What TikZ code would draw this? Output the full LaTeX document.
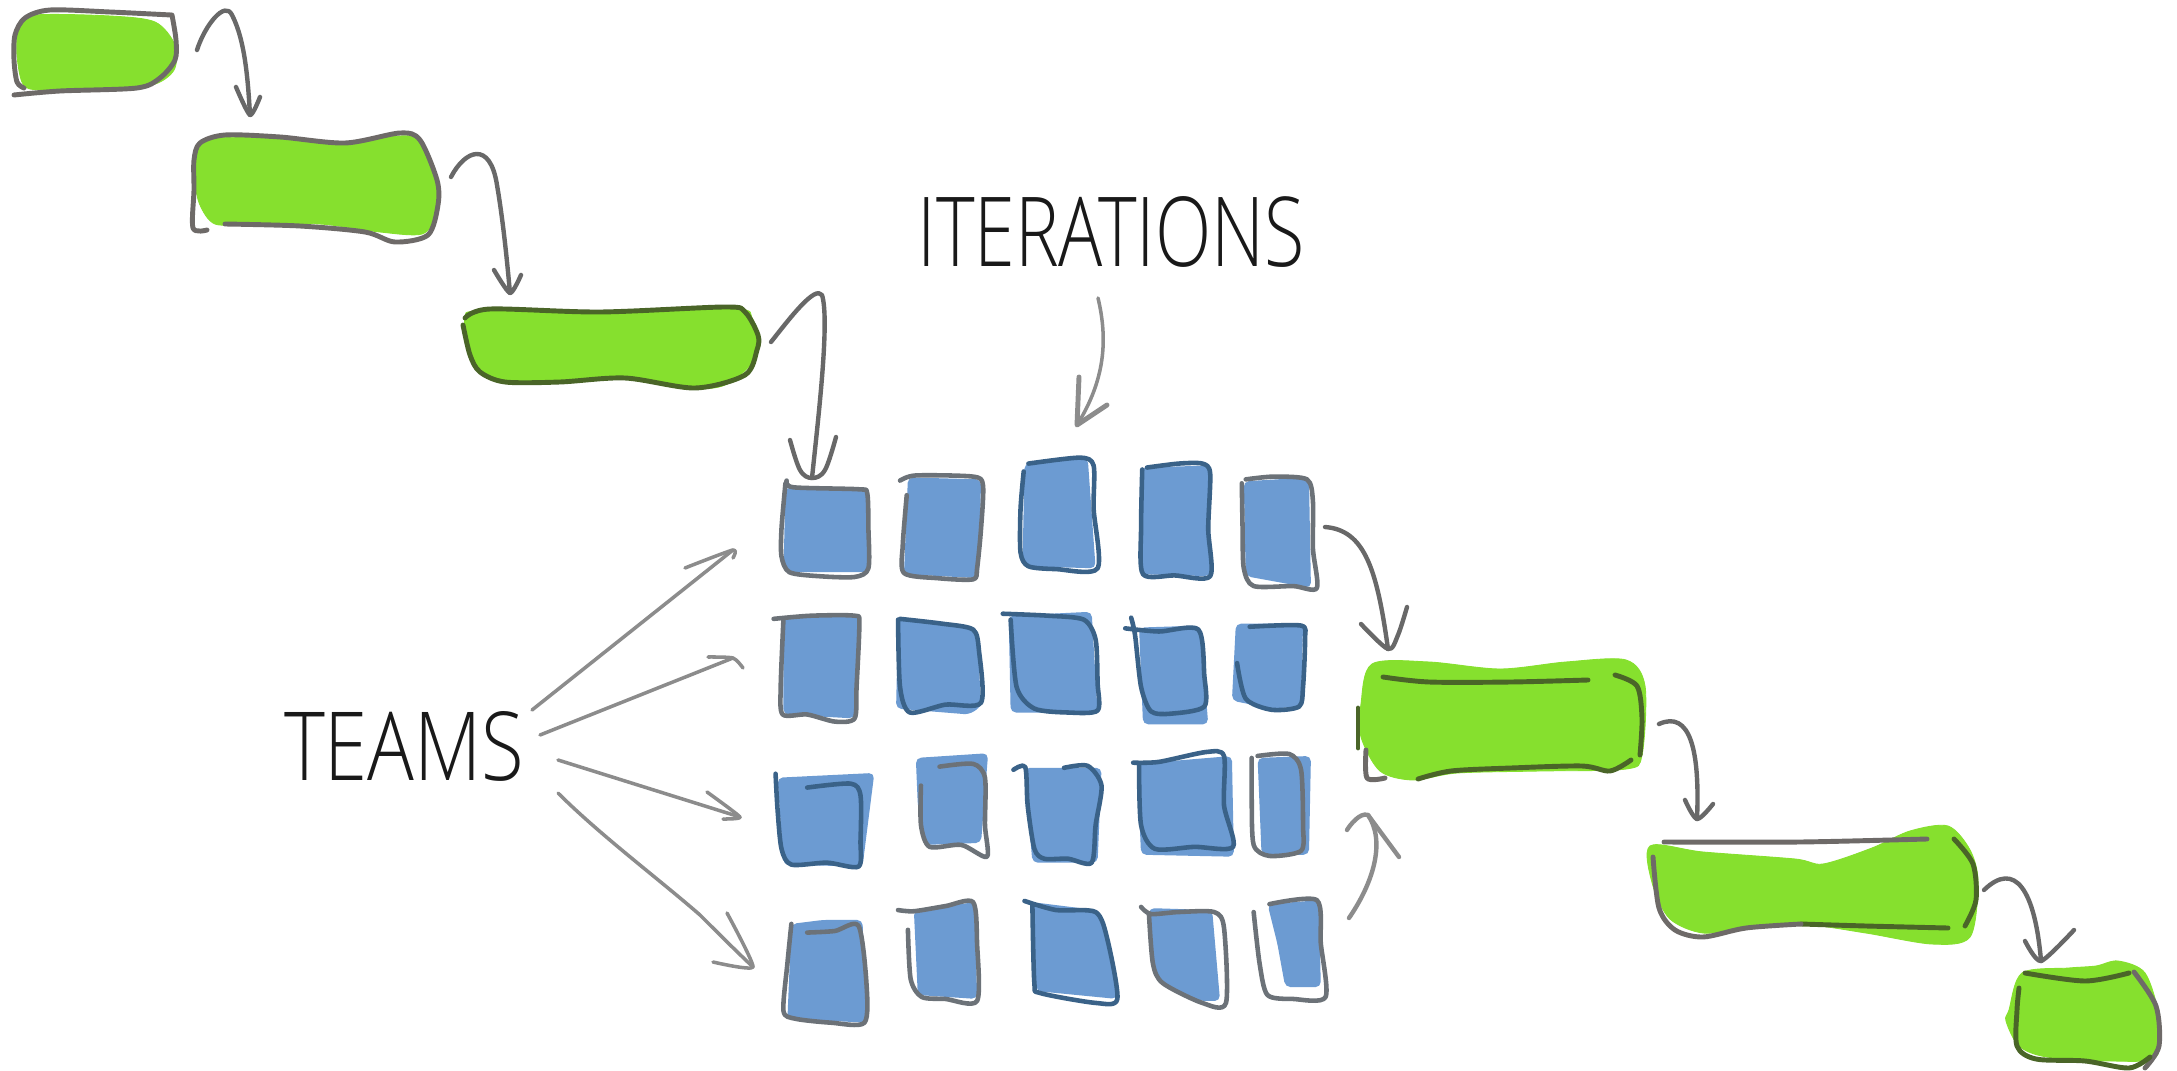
\documentclass[tikz,border=0pt]{standalone}
\usepackage{fontspec}
\newfontfamily\handfont{Open Sans Light}
\definecolor{grnfill}{HTML}{86E02E}
\definecolor{grnline}{HTML}{4A6528}
\definecolor{grayline}{HTML}{6E6A68}
\definecolor{bluefill}{HTML}{6C9BD2}
\definecolor{blueline}{HTML}{3A6288}
\definecolor{bgrayline}{HTML}{6C7278}
\definecolor{conncol}{HTML}{686868}
\definecolor{lightconn}{HTML}{8C8C8C}
\tikzset{
 gfill/.style={fill=grnfill,draw=grnfill,line width=.5pt},
 goutline/.style={draw=grayline,line width=2.8pt,line cap=round,line join=round},
 gdark/.style={draw=grnline,line width=2.8pt,line cap=round,line join=round},
 bfill/.style={fill=bluefill,rounded corners=3pt},
 boutline/.style={draw=blueline,line width=2.6pt,line cap=round,line join=round},
 bgray/.style={draw=bgrayline,line width=2.6pt,line cap=round,line join=round},
 conn/.style={draw=conncol,line width=2.5pt,line cap=round,line join=round},
 thinconn/.style={draw=lightconn,line width=2pt,line cap=round,line join=round},
 label/.style={inner sep=0pt,text=black!90,font=\handfont},
}
\newcommand{\gb}[2]{\fill[gfill] plot[smooth cycle,tension=.5] coordinates {#1};}
\newcommand{\ol}[2][goutline]{\draw[#1] plot[smooth,tension=.5] coordinates {#2};}
\newcommand{\bb}[2]{\fill[bfill] #1 -- cycle; \draw[bgray] plot[smooth,tension=.45] coordinates {#2};}
\newcommand{\bd}[2]{\fill[bfill] #1 -- cycle; \draw[boutline] plot[smooth,tension=.45] coordinates {#2};}
\begin{document}
\begin{tikzpicture}[x=0.02cm,y=-0.02cm]
\useasboundingbox (0,0) rectangle (2177,1071);
\fill[white] (0,0) rectangle (2177,1071);
% green boxes
\gb{(19,26)(36,15)(110,16)(155,22)(175,45)(174,70)(152,85)(100,89)(40,90)(23,84)(17,55)}{}
\ol{(171,15)(110,12)(50,10)(25,18)(15,35)(14,60)(17,82)(24,88)}
\ol{(14,95)(60,91)(137,88)(160,78)(175,60)(176,40)(172,15)}
\gb{(198,148)(212,138)(260,138)(340,142)(410,136)(428,153)(438,185)(436,215)(422,234)(380,232)(320,224)(250,224)(215,224)(200,205)(195,180)}{}
\ol{(207,230)(193,228)(194,190)(194,160)(200,143)(225,135)(280,137)(345,143)(400,133)(420,140)(437,180)(438,205)(428,235)(395,242)(365,232)(300,226)(225,224)}
\gb{(465,318)(480,311)(600,312)(735,309)(752,318)(757,340)(750,365)(725,385)(695,388)(625,378)(560,382)(510,382)(480,372)(468,350)}{}
\ol[gdark]{(465,318)(490,309)(600,312)(725,307)(745,312)(758,335)(757,350)(745,375)(695,388)(625,378)(560,382)(505,382)(480,372)(470,355)(463,325)}
\gb{(1361,704)(1372,664)(1429,662)(1500,669)(1566,662)(1626,660)(1645,686)(1642,755)(1626,769)(1539,771)(1457,773)(1413,780)(1380,771)(1361,737)}{}
\ol[gdark]{(1383,677)(1429,682)(1511,682)(1588,680)}
\ol[gdark]{(1615,675)(1637,686)(1642,718)(1640,755)}
\ol[gdark]{(1631,760)(1610,771)(1582,766)(1511,768)(1451,771)(1418,779)}
\ol[gdark]{(1358,748)(1358,708)}
\ol{(1366,750)(1367,778)(1385,778)}
\gb{(1650,846)(1703,852)(1795,859)(1823,864)(1872,848)(1910,831)(1948,826)(1970,850)(1978,882)(1970,937)(1932,944)(1866,933)(1801,924)(1746,928)(1703,933)(1670,919)(1653,886)}{}
\ol{(1664,842)(1800,842)(1927,839)}
\ol[gdark]{(1954,839)(1973,864)(1976,900)(1965,926)}
\ol[gdark]{(1948,928)(1866,926)(1801,924)}
\ol{(1801,924)(1746,928)(1703,937)(1675,930)(1659,908)(1653,857)}
\gb{(2009,1010)(2022,973)(2069,968)(2096,966)(2118,961)(2145,973)(2159,1017)(2156,1057)(2112,1061)(2047,1057)(2019,1046)(2006,1021)}{}
\ol[gdark]{(2025,973)(2085,981)(2129,973)}
\ol{(2134,972)(2156,1006)(2159,1046)(2145,1068)}
\ol[gdark]{(2150,1057)(2129,1068)(2085,1061)(2036,1059)(2017,1046)(2017,1010)(2019,988)}
% blue boxes
\begin{scope}[shift={(740,430)},x=0.00791cm,y=-0.00791cm]
\bb{(115,145)--(320,150)--(325,360)--(110,360)}{(118,128)(135,145)(300,150)(322,160)(325,250)(325,350)(290,372)(200,370)(125,360)(105,320)(105,250)(115,135)}
\bb{(425,120)--(610,125)--(605,375)--(415,365)}{(405,128)(445,115)(590,118)(615,140)(610,250)(600,350)(590,378)(500,375)(415,362)(412,290)(422,165)}
\bd{(720,85)--(880,70)--(900,350)--(715,345)}{(730,85)(860,70)(895,90)(895,200)(905,350)(800,352)(730,345)(710,310)(710,200)(718,105)}
\bd{(1015,95)--(1185,90)--(1190,370)--(1015,365)}{(1030,95)(1110,85)(1170,85)(1190,110)(1185,250)(1190,370)(1100,368)(1020,365)(1015,250)(1018,100)}
\bb{(1275,130)--(1440,120)--(1445,400)--(1280,370)}{(1280,125)(1350,118)(1435,125)(1450,180)(1450,300)(1460,400)(1400,395)(1300,395)(1275,350)(1272,250)(1270,135)}
\bb{(110,475)--(300,470)--(290,730)--(110,720)}{(85,478)(180,470)(290,470)(302,490)(295,650)(290,730)(240,738)(170,720)(108,720)(103,650)(110,478)}
\bd{(400,480)--(600,500)--(610,700)--(580,720)--(395,705)}{(405,478)(510,490)(590,505)(605,560)(610,690)(520,695)(430,715)(405,650)(400,480)}
\bd{(680,470)--(890,460)--(905,715)--(685,715)}{(665,465)(780,470)(870,480)(900,530)(905,640)(905,710)(830,715)(745,705)(700,650)(685,480)}
\bd{(1010,500)--(1165,495)--(1185,745)--(1020,745)}{(975,502)(1060,510)(1160,505)(1175,620)(1175,700)(1090,718)(1040,712)(1015,650)(1000,520)(990,475)}
\bd{(1255,490)--(1425,490)--(1420,700)--(1345,705)--(1245,685)}{(1290,498)(1420,495)(1430,530)(1425,650)(1415,700)(1345,708)(1280,680)(1258,590)}
\bd{(95,880)--(340,868)--(310,1105)--(110,1100)}{(170,905)(280,895)(305,925)(305,1040)(300,1105)(220,1095)(130,1100)(105,1060)(95,960)(90,870)}
\bb{(445,830)--(628,818)--(610,1045)--(470,1050)--(450,950)}{(505,852)(590,845)(620,880)(620,1000)(625,1080)(560,1050)(480,1055)(458,1000)(458,900)}
\bd{(720,855)--(915,855)--(905,1095)--(740,1095)}{(692,860)(722,853)(728,950)(745,1060)(770,1085)(830,1085)(890,1095)(900,1000)(915,900)(880,850)(820,855)}
\bd{(1005,845)--(1245,825)--(1250,1080)--(1015,1075)}{(995,842)(1060,840)(1180,815)(1225,825)(1225,950)(1248,1055)(1150,1055)(1050,1060)(1015,1000)(1010,850)}
\bb{(1310,830)--(1445,825)--(1440,1075)--(1320,1075)}{(1310,825)(1390,820)(1420,860)(1425,1000)(1420,1065)(1340,1078)(1300,1050)(1295,930)(1295,830)}
\bb{(130,1250)--(210,1240)--(310,1240)--(320,1500)--(120,1490)}{(170,1272)(240,1268)(300,1255)(320,1400)(315,1500)(230,1500)(140,1490)(110,1470)(120,1350)(130,1250)}
\bb{(440,1215)--(595,1195)--(600,1440)--(450,1430)}{(400,1215)(440,1218)(520,1205)(590,1195)(600,1300)(600,1445)(520,1440)(460,1435)(432,1390)(425,1265)}
\bd{(740,1195)--(900,1215)--(930,1290)--(955,1440)--(750,1420)}{(720,1192)(800,1215)(900,1220)(930,1290)(955,1440)(900,1450)(760,1425)(745,1400)(740,1200)}
\bb{(1035,1210)--(1195,1215)--(1215,1445)--(1165,1445)--(1060,1395)--(1040,1340)}{(1015,1207)(1040,1225)(1110,1220)(1200,1220)(1225,1260)(1230,1450)(1170,1450)(1070,1400)(1045,1350)(1035,1225)}
\bb{(1335,1200)--(1465,1190)--(1470,1410)--(1380,1410)--(1360,1300)}{(1340,1200)(1460,1190)(1470,1300)(1482,1435)(1400,1440)(1335,1430)(1315,1350)(1300,1220)}
\end{scope}
% labels
\node[label] (teams) at (404,746) {\resizebox{4.8cm}{1.38cm}{TEAMS}};
\node[label] (iter) at (1111,232) {\resizebox{7.74cm}{1.4cm}{ITERATIONS}};
% connector ends
\coordinate (g1out) at (197,50); \coordinate (g2in) at (250,115);
\coordinate (g2out) at (451,177); \coordinate (g3in) at (510,293);
\coordinate (g3out) at (771,342); \coordinate (b11in) at (812,478);
\coordinate (iterout) at (1098,298); \coordinate (b13in) at (1077,425);
\coordinate (b15out) at (1325,527); \coordinate (g4in) at (1388,649);
\coordinate (b45out) at (1349,918); \coordinate (g4inb) at (1368,815);
\coordinate (g4out) at (1659,724); \coordinate (g5in) at (1697,819);
\coordinate (g5out) at (1984,890); \coordinate (g6in) at (2041,961);
\coordinate (t1) at (532,710); \coordinate (r1) at (733,550);
\coordinate (t2) at (540,735); \coordinate (r2) at (733,658);
\coordinate (t3) at (558,760); \coordinate (r3) at (740,817);
\coordinate (t4) at (558,793); \coordinate (r4) at (753,967);
% connectors
\draw[conn] (g1out) .. controls (205,25) and (225,0) .. (232,15) .. controls (245,40) and (248,80) .. (g2in);
\draw[conn] plot[smooth,tension=.4] coordinates {(236,87)(g2in)(260,97)};
\draw[conn] (g2out) .. controls (465,150) and (490,140) .. (497,185) .. controls (503,220) and (507,260) .. (g3in);
\draw[conn] plot[smooth,tension=.4] coordinates {(494,270)(g3in)(521,275)};
\draw[conn] (g3out) .. controls (790,318) and (815,285) .. (822,295) .. controls (830,320) and (818,420) .. (b11in);
\draw[conn] plot[smooth,tension=.6] coordinates {(790,440)(800,470)(b11in)(825,470)(836,437)};
\draw[thinconn] (iterout) .. controls (1108,340) and (1105,380) .. (b13in);
\draw[thinconn,line width=2.8pt] (1079,377) -- (b13in) -- (1107,405);
\draw[conn] (b15out) .. controls (1365,530) and (1377,570) .. (g4in);
\draw[conn] plot[smooth,tension=.5] coordinates {(1361,624)(g4in)(1398,635)(1407,607)};
\draw[conn,draw=lightconn] (b45out) .. controls (1375,880) and (1385,840) .. (g4inb) .. controls (1360,812) and (1350,825) .. (1347,830);
\draw[conn,draw=lightconn] (g4inb) -- (1399,857);
\draw[conn] (g4out) .. controls (1690,710) and (1700,750) .. (g5in);
\draw[conn] plot[smooth,tension=.5] coordinates {(1685,800)(g5in)(1713,804)};
\draw[conn] (g5out) .. controls (2015,860) and (2035,890) .. (g6in);
\draw[conn] plot[smooth,tension=.4] coordinates {(2025,941)(g6in)(2074,930)};
\draw[thinconn] (t1) -- (r1);
\draw[thinconn] plot[smooth,tension=.4] coordinates {(685,568)(r1)(733,558)};
\draw[thinconn] (t2) -- (r2);
\draw[thinconn] plot[smooth,tension=.4] coordinates {(708,657)(r2)(743,668)};
\draw[thinconn] (t3) -- (r3);
\draw[thinconn] plot[smooth,tension=.3] coordinates {(707,792)(r3)(723,819)};
\draw[thinconn] (t4) .. controls (600,835) and (660,880) .. (700,915) .. controls (715,930) and (735,950) .. (r4);
\draw[thinconn] plot[smooth,tension=.3] coordinates {(727,913)(r4)(713,962)};
\end{tikzpicture}
\end{document}
